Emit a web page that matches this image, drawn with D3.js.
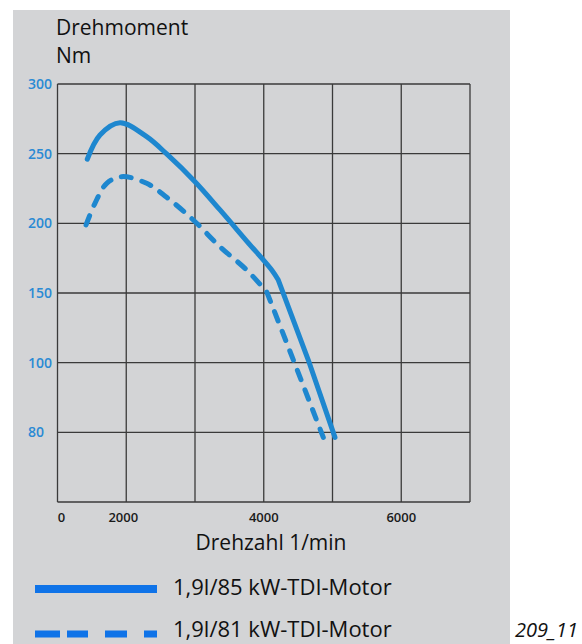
<!DOCTYPE html>
<html>
<head>
<meta charset="utf-8">
<script src="https://cdn.jsdelivr.net/npm/d3@7"></script>
<style>
  body { margin: 0; background: #fff; }
  text { font-family: 'Open Sans', sans-serif; }
</style>
</head>
<body>
<svg width="582" height="644"></svg>
<script>
const width = 582
const height = 644

// drehmoment curves (rpm, chart units); the curve is smooth up to the kink, straight after it
const rpm85 = [1433, 1618, 1909, 2297, 2588, 3000, 3364, 3752, 4116, 4212, 4648, 5036]
const nm85 = [246, 263.4, 272.2, 262.2, 249.8, 229.9, 209.6, 187.3, 166.5, 159.3, 101.9, 46.4]
const kink85 = 9
const rpm81 = [1415, 1545, 1716, 1934, 2297, 2588, 2975, 3364, 3752, 4043, 4430, 4866]
const nm81 = [198.8, 214.4, 228.7, 233.5, 228.7, 218.7, 202.4, 183.2, 166.5, 150.9, 102, 46.4]
const kink81 = 9

const yTickValues = [300, 250, 200, 150, 100, 50]
const yTickLabels = ['300', '250', '200', '150', '100', '80']
const xTickValues = [1000, 2000, 4000, 6000]
const xTickLabels = ['0', '2000', '4000', '6000']
const xGrid = [1000, 2000, 3000, 4000, 5000, 6000, 7000]
const yGrid = [0, 50, 100, 150, 200, 250, 300]

const legendLabels = ['1,9l/85 kW-TDI-Motor', '1,9l/81 kW-TDI-Motor']

const margin = { left: 57.5, top: 84, right: 470, bottom: 502 }

const svg = d3.select('svg')

svg.append('rect')
  .attr('x', 13).attr('y', 10)
  .attr('width', 497).attr('height', 640)
  .attr('fill', '#d3d4d6')

const x = d3.scaleLinear().domain([1000, 7000]).range([margin.left, margin.right])
const y = d3.scaleLinear().domain([0, 300]).range([margin.bottom, margin.top])

// grid
const grid = svg.append('g').attr('stroke', '#3a3a3a').attr('stroke-width', 1.3)
grid.selectAll('line.v')
  .data(xGrid)
  .join('line')
  .attr('class', 'v')
  .attr('x1', d => x(d)).attr('x2', d => x(d))
  .attr('y1', y(0)).attr('y2', y(300))
grid.selectAll('line.h')
  .data(yGrid)
  .join('line')
  .attr('class', 'h')
  .attr('x1', x(1000)).attr('x2', x(7000))
  .attr('y1', d => y(d)).attr('y2', d => y(d))

// y labels
svg.append('g')
  .selectAll('text')
  .data(yTickValues)
  .join('text')
  .attr('x', 28)
  .attr('y', d => y(d) + 5)
  .attr('fill', '#2a8ad4')
  .attr('font-size', 14)
  .attr('font-weight', 600)
  .text((d, i) => yTickLabels[i])

// x labels
svg.append('g')
  .selectAll('text')
  .data(xTickValues)
  .join('text')
  .attr('x', d => x(d) + (d === 1000 ? 4 : d === 2000 ? -3 : 0))
  .attr('y', 522)
  .attr('text-anchor', 'middle')
  .attr('font-size', 13)
  .attr('font-weight', 600)
  .attr('fill', '#1a1a1a')
  .text((d, i) => xTickLabels[i])

// titles
svg.append('text').attr('x', 56).attr('y', 35).attr('font-size', 21).attr('fill', '#111').text('Drehmoment')
svg.append('text').attr('x', 56).attr('y', 63).attr('font-size', 21).attr('fill', '#111').text('Nm')
svg.append('text').attr('x', 271).attr('y', 550).attr('text-anchor', 'middle')
  .attr('font-size', 21).attr('fill', '#111').text('Drehzahl 1/min')

// curves
const smooth = d3.line()
  .x(d => x(d[0]))
  .y(d => y(d[1]))
  .curve(d3.curveCatmullRom.alpha(0.5))
const straight = d3.line()
  .x(d => x(d[0]))
  .y(d => y(d[1]))

function curvePath(rpm, nm, kink) {
  const pts = rpm.map((r, i) => [r, nm[i]])
  return smooth(pts.slice(0, kink + 1)) + straight(pts.slice(kink)).replace(/^M/, 'L')
}

const curveColor = '#1e87cf'

svg.append('path')
  .attr('d', curvePath(rpm85, nm85, kink85))
  .attr('fill', 'none')
  .attr('stroke', curveColor)
  .attr('stroke-width', 5)
  .attr('stroke-linecap', 'round')
  .attr('stroke-linejoin', 'round')

svg.append('path')
  .attr('d', curvePath(rpm81, nm81, kink81))
  .attr('fill', 'none')
  .attr('stroke', curveColor)
  .attr('stroke-width', 5)
  .attr('stroke-dasharray', '10,11')
  .attr('stroke-linecap', 'round')

// legend
const legendColor = '#0f73e8'
const legend = svg.append('g')
legend.append('line')
  .attr('x1', 35).attr('x2', 157).attr('y1', 589).attr('y2', 589)
  .attr('stroke', legendColor).attr('stroke-width', 8)
legend.append('line')
  .attr('x1', 35).attr('x2', 157).attr('y1', 634).attr('y2', 634)
  .attr('stroke', legendColor).attr('stroke-width', 7)
  .attr('stroke-dasharray', '25,7,21,17,22,17,14,40')
legend.selectAll('text')
  .data(legendLabels)
  .join('text')
  .attr('x', 173)
  .attr('y', (d, i) => 595 + i * 42)
  .attr('font-size', 22)
  .attr('fill', '#111')
  .text(d => d)

svg.append('text')
  .attr('x', 515).attr('y', 637)
  .attr('font-size', 20)
  .attr('font-style', 'italic')
  .attr('fill', '#111')
  .text('209_11')
</script>
</body>
</html>
